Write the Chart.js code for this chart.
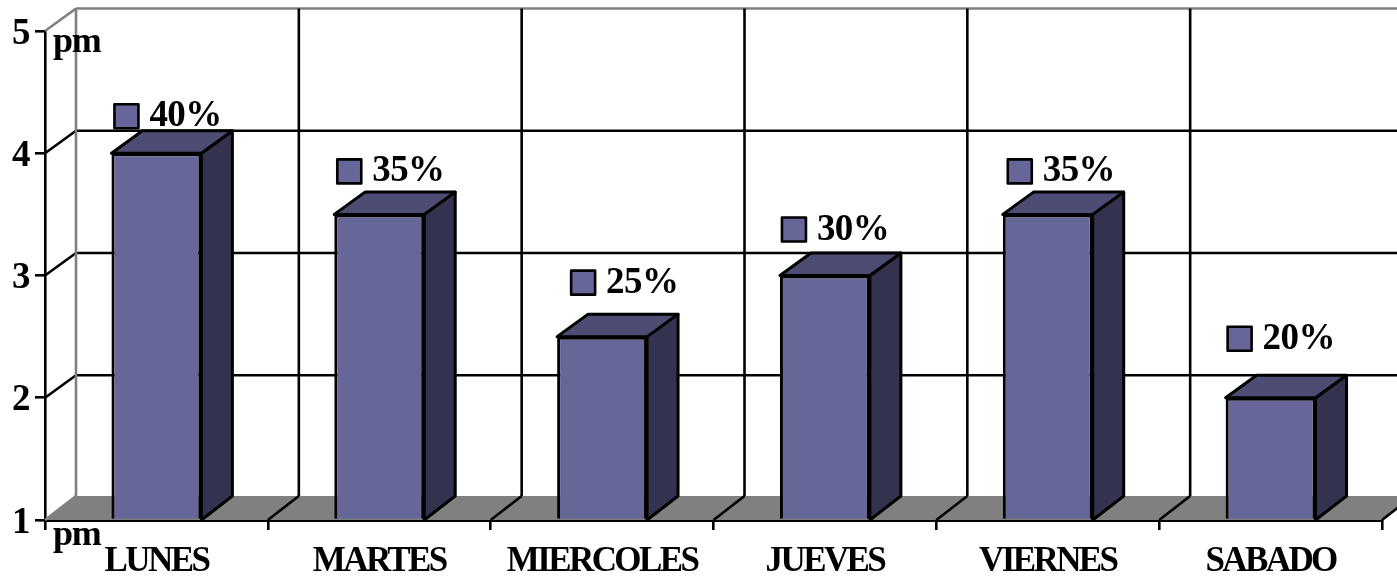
<!DOCTYPE html>
<html>
<head>
<meta charset="utf-8">
<style>
  html, body { margin: 0; padding: 0; background: #fff; }
  canvas { display: block; }
</style>
</head>
<body>
<canvas id="grafico" width="1397" height="577"></canvas>
<script src="https://cdn.jsdelivr.net/npm/chart.js@4/dist/chart.umd.min.js"></script>
<script>
const dias = ['LUNES', 'MARTES', 'MIERCOLES', 'JUEVES', 'VIERNES', 'SABADO'];
const horas = [4, 3.5, 2.5, 3, 3.5, 2];
const porcentajes = [40, 35, 25, 30, 35, 20];
const unidad = 'pm';

// Profundidad de la perspectiva: piso, y lineas de arriba hacia abajo
const DX = 31;
const DY = -24;
const DY_INTERIOR = -22.5;

// Separacion de cada etiqueta respecto a la esquina superior izquierda de su barra
const desplazamientos = [[3, -37], [3, -43], [14, -54], [2, -46], [5, -43], [2, -59]];

const AZUL = '#666699';
const AZUL_TECHO = '#4d4d73';
const AZUL_LADO = '#333350';
const GRIS = '#808080';
const NEGRO = '#000000';
const FUENTE = '"Liberation Serif", "Times New Roman", serif';

function poligono(ctx, puntos, relleno, borde, ancho) {
    ctx.beginPath();
    puntos.forEach(([x, y], i) => (i ? ctx.lineTo(x, y) : ctx.moveTo(x, y)));
    ctx.closePath();
    if (relleno) {
        ctx.fillStyle = relleno;
        ctx.fill();
    }
    if (borde) {
        ctx.strokeStyle = borde;
        ctx.lineWidth = ancho;
        ctx.lineJoin = 'round';
        ctx.stroke();
    }
}

function linea(ctx, x1, y1, x2, y2, color, ancho) {
    ctx.beginPath();
    ctx.moveTo(x1, y1);
    ctx.lineTo(x2, y2);
    ctx.strokeStyle = color;
    ctx.lineWidth = ancho;
    ctx.stroke();
}

const efecto3d = {
    id: 'efecto3d',
    beforeDraw(chart) {
        chart.ctx.letterSpacing = '-2.6px';
    },
    beforeDatasetsDraw(chart) {
        const ctx = chart.ctx;
        const x = chart.scales.x;
        const y = chart.scales.y;
        const derecha = chart.width;
        const base = y.getPixelForValue(y.min);
        ctx.save();

        // Piso gris
        poligono(ctx, [[x.left, base], [x.left + DX, base + DY], [x.right + DX, base + DY], [x.right, base]], GRIS);

        // Lineas horizontales del fondo y sus diagonales en la pared izquierda
        y.ticks.forEach((t) => {
            const py = y.getPixelForValue(t.value);
            const color = t.value === y.max || t.value === y.min ? GRIS : NEGRO;
            const dy = t.value === y.min ? DY : DY_INTERIOR;
            linea(ctx, x.left, py, x.left + DX, py + dy, color, 2.6);
            if (t.value !== y.min) {
                linea(ctx, x.left + DX, py + dy, derecha, py + dy, color, 2.6);
            }
        });

        // Lineas verticales del fondo y del piso
        const fondoArriba = y.getPixelForValue(y.max) + DY_INTERIOR;
        linea(ctx, x.left + DX, fondoArriba, x.left + DX, base + DY, GRIS, 2.6);
        const paso = (x.right - x.left) / dias.length;
        dias.forEach((_, i) => {
            const px = x.left + paso * (i + 1);
            linea(ctx, px, base, px + DX, base + DY, NEGRO, 2.6);
            if (i < dias.length - 1) {
                linea(ctx, px + DX, fondoArriba, px + DX, base + DY, NEGRO, 2.6);
            }
        });

        // Techo y lado de cada barra, el frente lo dibuja Chart.js
        chart.getDatasetMeta(0).data.forEach((barra) => {
            const { x: cx, y: tope, width } = barra.getProps(['x', 'y', 'width'], true);
            const izq = cx - width / 2;
            const der = cx + width / 2;
            poligono(ctx, [[der, base], [der + DX, base + DY], [der + DX, tope + DY_INTERIOR], [der, tope]], AZUL_LADO, NEGRO, 3);
            poligono(ctx, [[izq, tope], [izq + DX, tope + DY_INTERIOR], [der + DX, tope + DY_INTERIOR], [der, tope]], AZUL_TECHO, NEGRO, 3);
        });
        ctx.restore();
    },
    afterDatasetsDraw(chart) {
        const ctx = chart.ctx;
        const y = chart.scales.y;
        ctx.save();
        ctx.textBaseline = 'alphabetic';
        ctx.textAlign = 'left';

        // Etiqueta de cada barra: cuadrito de leyenda y porcentaje
        chart.getDatasetMeta(0).data.forEach((barra, i) => {
            const { x: cx, y: tope, width } = barra.getProps(['x', 'y', 'width'], true);
            const [ox, oy] = desplazamientos[i];
            const px = cx - width / 2 + ox;
            const py = tope + oy;
            poligono(ctx, [[px, py - 12], [px + 24, py - 12], [px + 24, py + 12], [px, py + 12]], AZUL, NEGRO, 2.6);
            ctx.fillStyle = NEGRO;
            ctx.font = 'bold 37px ' + FUENTE;
            ctx.letterSpacing = '-0.6px';
            ctx.fillText(porcentajes[i] + '%', px + 35, py + 10);
        });

        // Unidad junto a los extremos del eje
        ctx.font = 'bold 36px ' + FUENTE;
        ctx.letterSpacing = '-1.2px';
        ctx.fillText(unidad, 53, y.getPixelForValue(y.max) + 21);
        ctx.fillText(unidad, 53, y.getPixelForValue(y.min) + 25);
        ctx.restore();
    }
};

new Chart(document.getElementById('grafico'), {
    type: 'bar',
    data: {
        labels: dias,
        datasets: [{
            label: 'Horas',
            data: horas,
            base: 1,
            backgroundColor: AZUL,
            borderColor: NEGRO,
            borderWidth: 3,
            barPercentage: 1,
            categoryPercentage: 90 / 223
        }]
    },
    plugins: [efecto3d],
    options: {
        responsive: false,
        animation: false,
        devicePixelRatio: 1,
        layout: { padding: { top: 31, right: 15, left: 0, bottom: 0 } },
        plugins: {
            legend: { display: false },
            title: { display: false },
            tooltip: { enabled: false }
        },
        scales: {
            x: {
                afterFit(scale) { scale.height = 57; },
                grid: { drawOnChartArea: false, color: NEGRO, lineWidth: 2.6, tickLength: 10 },
                border: { color: NEGRO, width: 3 },
                ticks: {
                    color: NEGRO,
                    autoSkip: false,
                    maxRotation: 0,
                    padding: 11,
                    font: { family: FUENTE, weight: 'bold', size: 35 }
                }
            },
            y: {
                min: 1,
                max: 5,
                afterFit(scale) { scale.width = 45; },
                grid: { drawOnChartArea: false, color: NEGRO, lineWidth: 2.6, tickLength: 10 },
                border: { color: NEGRO, width: 2.6 },
                ticks: {
                    stepSize: 1,
                    color: NEGRO,
                    padding: 7,
                    labelOffset: 3,
                    font: { family: FUENTE, weight: 'bold', size: 37 }
                }
            }
        }
    }
});
</script>
</body>
</html>
